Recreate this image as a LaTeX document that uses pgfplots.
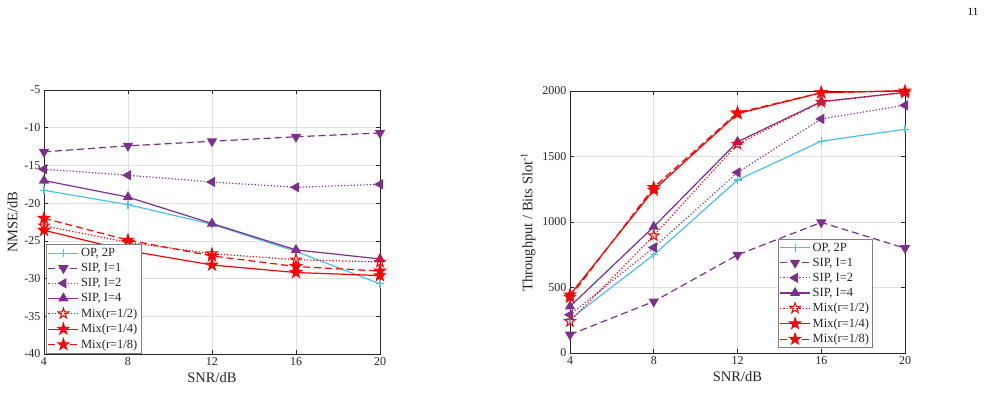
\documentclass[border=0pt]{standalone}
\usepackage{fontspec}
\setmainfont{Liberation Serif}
\usepackage{pgfplots}
\pgfplotsset{compat=1.18}
\definecolor{mblue}{rgb}{0.301,0.745,0.933}
\definecolor{mpurp}{rgb}{0.494,0.184,0.556}
\definecolor{axgray}{rgb}{0.15,0.15,0.15}
\definecolor{gridgray}{rgb}{0.88,0.88,0.88}

\pgfdeclareplotmark{pstar}{%
  \pgfpathmoveto{\pgfpointpolar{90}{\pgfplotmarksize}}%
  \pgfpathlineto{\pgfpointpolar{126}{0.382*\pgfplotmarksize}}%
  \pgfpathlineto{\pgfpointpolar{162}{\pgfplotmarksize}}%
  \pgfpathlineto{\pgfpointpolar{198}{0.382*\pgfplotmarksize}}%
  \pgfpathlineto{\pgfpointpolar{234}{\pgfplotmarksize}}%
  \pgfpathlineto{\pgfpointpolar{270}{0.382*\pgfplotmarksize}}%
  \pgfpathlineto{\pgfpointpolar{306}{\pgfplotmarksize}}%
  \pgfpathlineto{\pgfpointpolar{342}{0.382*\pgfplotmarksize}}%
  \pgfpathlineto{\pgfpointpolar{18}{\pgfplotmarksize}}%
  \pgfpathlineto{\pgfpointpolar{54}{0.382*\pgfplotmarksize}}%
  \pgfpathclose\pgfusepathqfillstroke}
\pgfdeclareplotmark{pstaro}{%
  \pgfpathmoveto{\pgfpointpolar{90}{\pgfplotmarksize}}%
  \pgfpathlineto{\pgfpointpolar{126}{0.382*\pgfplotmarksize}}%
  \pgfpathlineto{\pgfpointpolar{162}{\pgfplotmarksize}}%
  \pgfpathlineto{\pgfpointpolar{198}{0.382*\pgfplotmarksize}}%
  \pgfpathlineto{\pgfpointpolar{234}{\pgfplotmarksize}}%
  \pgfpathlineto{\pgfpointpolar{270}{0.382*\pgfplotmarksize}}%
  \pgfpathlineto{\pgfpointpolar{306}{\pgfplotmarksize}}%
  \pgfpathlineto{\pgfpointpolar{342}{0.382*\pgfplotmarksize}}%
  \pgfpathlineto{\pgfpointpolar{18}{\pgfplotmarksize}}%
  \pgfpathlineto{\pgfpointpolar{54}{0.382*\pgfplotmarksize}}%
  \pgfpathclose\pgfusepathqstroke}

\pgfplotsset{
  mystyle/.style={
    scale only axis,
    xmin=4, xmax=20, xtick={4,8,12,16,20},
    grid=major,
    grid style={gridgray, line width=0.7pt},
    axis line style={axgray, line width=0.8pt},
    tick style={axgray, line width=0.7pt},
    tick align=inside,
    major tick length=4pt,
    ticklabel style={font=\fontsize{12}{12}\selectfont, text=axgray},
    label style={font=\fontsize{14.5}{14.5}\selectfont, text=axgray},
    /pgf/number format/assume math mode=true,
    /pgf/number format/1000 sep={},
    scaled y ticks=false,
    legend cell align=left,
    legend style={font=\fontsize{12.5}{13}\selectfont, draw=gray, line width=0.6pt,
      inner sep=1.5pt, row sep=1.3pt, text=axgray},
    legend image code/.code={\draw[mark repeat=2,mark phase=2,##1] plot coordinates {(0pt,0pt) (15pt,0pt) (30pt,0pt)};},
  },
  opl/.style={mblue, line width=1.2pt, mark=+, mark size=4pt, mark options={solid}},
  s1/.style={mpurp, line width=1.2pt, dash pattern=on 7pt off 4pt, mark=triangle*, mark size=4.8pt, mark options={solid, rotate=180, fill=mpurp}},
  s2/.style={mpurp, line width=1.2pt, dotted, mark=triangle*, mark size=4.8pt, mark options={solid, rotate=90, fill=mpurp}},
  s4/.style={mpurp, line width=1.2pt, mark=triangle*, mark size=4.8pt, mark options={solid, fill=mpurp}},
  m2/.style={red, line width=1.2pt, dotted, mark=pstaro, mark size=5.5pt, mark options={solid, line width=1pt}},
  m4/.style={red, line width=1.2pt, mark=pstar, mark size=5.5pt, mark options={solid, fill=red}},
  m8/.style={red, line width=1.2pt, dash pattern=on 7pt off 4pt, mark=pstar, mark size=5.5pt, mark options={solid, fill=red}},
}

\begin{document}
\begin{tikzpicture}
\path[use as bounding box] (0,0) rectangle (986pt,402pt);

\begin{axis}[mystyle,
  at={(44pt,48pt)}, anchor=south west,
  width=336pt, height=264pt,
  ymin=-40, ymax=-5, ytick={-40,-35,-30,-25,-20,-15,-10,-5},
  xlabel={SNR/dB}, ylabel={NMSE/dB},
  legend style={at={(0.006,0.002)}, anchor=south west},
]
\addplot[opl] coordinates {(4,-18.3) (8,-20.2) (12,-22.8) (16,-26.4) (20,-30.7)};
\addlegendentry{OP, 2P}
\addplot[s1] coordinates {(4,-13.2) (8,-12.4) (12,-11.8) (16,-11.2) (20,-10.7)};
\addlegendentry{SIP, I=1}
\addplot[s2] coordinates {(4,-15.5) (8,-16.3) (12,-17.2) (16,-17.9) (20,-17.5)};
\addlegendentry{SIP, I=2}
\addplot[s4] coordinates {(4,-17.0) (8,-19.2) (12,-22.7) (16,-26.2) (20,-27.4)};
\addlegendentry{SIP, I=4}
\addplot[m2] coordinates {(4,-23.0) (8,-25.2) (12,-26.7) (16,-27.5) (20,-27.8)};
\addlegendentry{Mix(r=1/2)}
\addplot[m4] coordinates {(4,-23.6) (8,-26.3) (12,-28.2) (16,-29.2) (20,-29.6)};
\addlegendentry{Mix(r=1/4)}
\addplot[m8] coordinates {(4,-22.0) (8,-24.9) (12,-27.0) (16,-28.4) (20,-29.0)};
\addlegendentry{Mix(r=1/8)}
\end{axis}

\begin{axis}[mystyle,
  at={(570pt,49pt)}, anchor=south west,
  width=335pt, height=262pt,
  ymin=0, ymax=2000, ytick={0,500,1000,1500,2000},
  xlabel={SNR/dB}, ylabel={Throughput / Bits Slot\textsuperscript{-1}},
  legend style={at={(0.904,0.019)}, anchor=south east},
]
\addplot[opl] coordinates {(4,259) (8,749) (12,1320) (16,1617) (20,1708)};
\addlegendentry{OP, 2P}
\addplot[s1] coordinates {(4,140) (8,393) (12,749) (16,997) (20,800)};
\addlegendentry{SIP, I=1}
\addplot[s2] coordinates {(4,292) (8,805) (12,1378) (16,1787) (20,1891)};
\addlegendentry{SIP, I=2}
\addplot[s4] coordinates {(4,355) (8,964) (12,1612) (16,1919) (20,1990)};
\addlegendentry{SIP, I=4}
\addplot[m2] coordinates {(4,241) (8,896) (12,1594) (16,1916) (20,1987)};
\addlegendentry{Mix(r=1/2)}
\addplot[m4] coordinates {(4,444) (8,1244) (12,1827) (16,1987) (20,2003)};
\addlegendentry{Mix(r=1/4)}
\addplot[m8] coordinates {(4,426) (8,1264) (12,1835) (16,1987) (20,2000)};
\addlegendentry{Mix(r=1/8)}
\end{axis}

\node[font=\fontsize{11}{11}\selectfont] at (973pt,390pt) {11};
\end{tikzpicture}
\end{document}
